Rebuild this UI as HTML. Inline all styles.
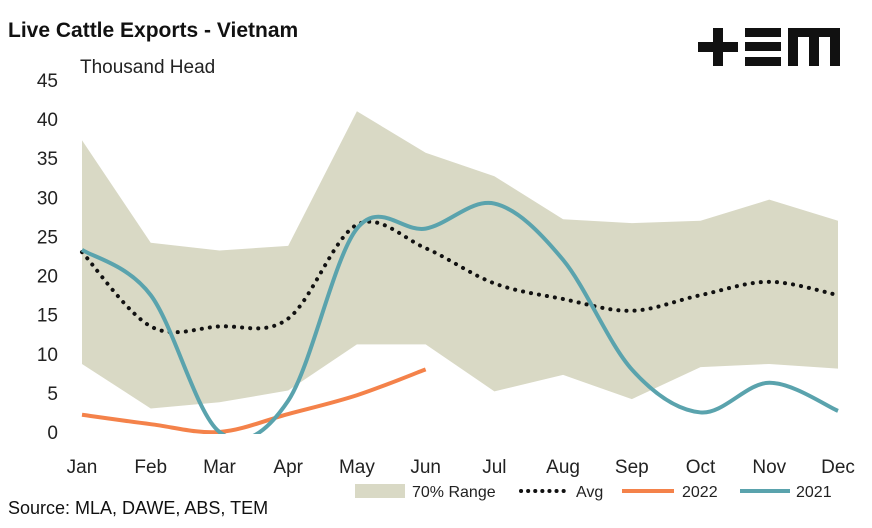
<!DOCTYPE html>
<html><head><meta charset="utf-8"><style>
body{margin:0;background:#fff;font-family:"Liberation Sans",sans-serif}
</style></head><body>
<svg id="c" width="872" height="523" xmlns="http://www.w3.org/2000/svg" font-family="Liberation Sans, sans-serif">
<text x="8" y="37" font-size="21" font-weight="bold" fill="#111">Live Cattle Exports - Vietnam</text>
<text x="80" y="73" font-size="19" fill="#222">Thousand Head</text>
<g fill="#111">
<rect x="698" y="42" width="40" height="10"/><rect x="713" y="28" width="10" height="38"/>
<rect x="745" y="28" width="36" height="9"/><rect x="745" y="42" width="36" height="9"/><rect x="745" y="57" width="36" height="9"/>
<path d="M788 66V28h52v38h-10V37h-11v29h-10V37h-11v29z"/>
</g>
<g id="plot"></g>
<text x="8" y="514" font-size="18" fill="#111">Source: MLA, DAWE, ABS, TEM</text>
<g font-size="16" fill="#222">
<g><rect x="355" y="484" width="50" height="14" fill="#d9d9c5"/><text x="412" y="497">70% Range</text></g>
<g><line x1="521" y1="491" x2="570" y2="491" stroke="#111" stroke-width="4" stroke-dasharray="0.1 7" stroke-linecap="round"/><text x="576" y="497">Avg</text></g>
<g><line x1="622" y1="491" x2="674" y2="491" stroke="#f4824a" stroke-width="4"/><text x="682" y="497">2022</text></g>
<g><line x1="740" y1="491" x2="790" y2="491" stroke="#5aa3ad" stroke-width="4"/><text x="796" y="497">2021</text></g>
</g>
</svg>
<script>
const months=["Jan","Feb","Mar","Apr","May","Jun","Jul","Aug","Sep","Oct","Nov","Dec"];
const yTicks=[0,5,10,15,20,25,30,35,40,45];
const rangeHigh=[37.3,24.2,23.2,23.8,41,35.7,32.7,27.2,26.7,27,29.7,27];
const rangeLow=[8.7,3,3.8,5.3,11.2,11.2,5.2,7.3,4.2,8.3,8.7,8.1];
const avg=[23,13.5,13.5,14.5,26.5,23.5,19,17,15.5,17.5,19.2,17.5];
const s2021=[23.3,17.5,0,4,26,26,29.2,22,8,2.5,6.3,2.7];
const s2022=[2.2,1,0,2.3,4.7,8];
const NS="http://www.w3.org/2000/svg";
const X=i=>82+i*(838-82)/11, Y=v=>432-v*(432-80)/45;
const g=document.getElementById('plot');
function mk(t,a){const e=document.createElementNS(NS,t);for(const k in a)e.setAttribute(k,a[k]);g.appendChild(e);return e;}
const defs=mk('defs',{});const cp=document.createElementNS(NS,'clipPath');cp.setAttribute('id','clip');
const cr=document.createElementNS(NS,'rect');cr.setAttribute('x',0);cr.setAttribute('y',60);cr.setAttribute('width',872);cr.setAttribute('height',Y(0)-60+2);cp.appendChild(cr);defs.appendChild(cp);
let d='M'+X(0)+' '+Y(rangeHigh[0]);
rangeHigh.forEach((v,i)=>d+=' L'+X(i)+' '+Y(v));
for(let i=rangeLow.length-1;i>=0;i--)d+=' L'+X(i)+' '+Y(rangeLow[i]);
const area=mk('path',{d:d+'Z',fill:'#d9d9c5'});


yTicks.forEach(t=>{const e=mk('text',{x:58,y:Y(t)+7,'font-size':19,'text-anchor':'end',fill:'#222'});e.textContent=t;

});
months.forEach((m,i)=>{const e=mk('text',{x:X(i),y:473,'font-size':19,'text-anchor':'middle',fill:'#222'});e.textContent=m;

});
function smooth(arr){const p=arr.map((v,i)=>[X(i),Y(v)]);let s='M'+p[0][0]+' '+p[0][1];
for(let i=0;i<p.length-1;i++){const p0=p[i-1]||p[i],p1=p[i],p2=p[i+1],p3=p[i+2]||p2;
s+=` C${p1[0]+(p2[0]-p0[0])/6} ${p1[1]+(p2[1]-p0[1])/6} ${p2[0]-(p3[0]-p1[0])/6} ${p2[1]-(p3[1]-p1[1])/6} ${p2[0]} ${p2[1]}`;}return s;}
const a=mk('path',{d:smooth(avg),fill:'none',stroke:'#111','stroke-width':4,'stroke-dasharray':'0.1 8','stroke-linecap':'round'});


const l22=mk('path',{d:smooth(s2022),fill:'none',stroke:'#f4824a','stroke-width':4,'clip-path':'url(#clip)'});


const l21=mk('path',{d:smooth(s2021),fill:'none',stroke:'#5aa3ad','stroke-width':4,'clip-path':'url(#clip)'});


</script>
</body></html>
